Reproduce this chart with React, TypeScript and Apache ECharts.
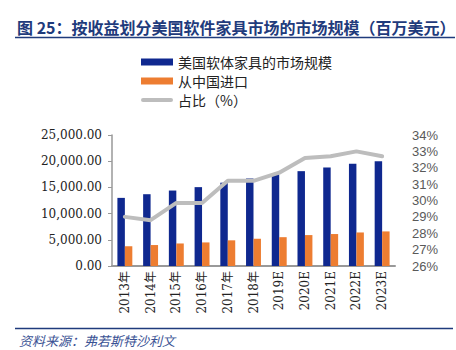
import React, { useEffect, useRef } from "react";
import * as echarts from "echarts";

const categories = ["2013年", "2014年", "2015年", "2016年", "2017年", "2018年", "2019E", "2020E", "2021E", "2022E", "2023E"];
const marketSize = [13000, 13700, 14400, 15050, 15900, 16700, 17500, 18100, 18800, 19500, 20000];
const importsChina = [3770, 4000, 4300, 4500, 4900, 5200, 5500, 5900, 6100, 6400, 6600];
const sharePct = [29.0, 28.8, 29.85, 29.85, 31.2, 31.2, 31.7, 32.6, 32.7, 33.0, 32.7];
const seriesNames = ["美国软体家具的市场规模", "从中国进口", "占比（%）"];
const titleText = "图 25：按收益划分美国软件家具市场的市场规模（百万美元）";
const sourceText = "资料来源：弗若斯特沙利文";

export default function App() {
  const ref = useRef<HTMLDivElement>(null);
  useEffect(() => {
    if (!ref.current) return;
    const chart = echarts.init(ref.current, null, { renderer: "svg" });
    const navy = "#1F3B7C";
    chart.setOption({
      animation: false,
      backgroundColor: "#ffffff",
      graphic: [
        {
          type: "text",
          left: 17,
          top: 19,
          style: { text: titleText, fill: navy, font: "bold 16px 'Noto Sans CJK SC', sans-serif" },
        },
        { type: "line", shape: { x1: 15, y1: 37.5, x2: 455, y2: 37.5 }, style: { stroke: navy, lineWidth: 1.5 } },
        { type: "line", shape: { x1: 15, y1: 328.5, x2: 453, y2: 328.5 }, style: { stroke: navy, lineWidth: 1.5 } },
        {
          type: "text",
          left: 19,
          top: 334,
          style: { text: sourceText, fill: "#3A5294", font: "italic 13px 'Noto Sans CJK SC', sans-serif" },
        },
      ],
      legend: {
        orient: "vertical",
        left: 136,
        top: 50,
        itemWidth: 32,
        itemHeight: 7,
        itemGap: 5,
        symbolKeepAspect: true,
        textStyle: { fontSize: 14, color: "#222", fontFamily: "'Noto Sans CJK SC', sans-serif" },
        data: [
          { name: seriesNames[0], icon: "rect" },
          { name: seriesNames[1], icon: "rect" },
          {
            name: seriesNames[2],
            icon: "path://M2,0 L30,0 A2,2 0 0 1 30,4 L2,4 A2,2 0 0 1 2,0 Z",
          },
        ],
      },
      grid: { left: 112, right: 61, top: 135, bottom: 84 },
      xAxis: {
        type: "category",
        data: categories,
        axisLine: { lineStyle: { color: "#999", width: 2 } },
        axisTick: { show: false },
        axisLabel: {
          rotate: 90,
          margin: 5,
          color: "#222",
          fontSize: 12,
          fontFamily: "'DejaVu Serif', 'Noto Sans CJK SC', serif",
        },
      },
      yAxis: [
        {
          type: "value",
          min: 0,
          max: 25000,
          interval: 5000,
          splitLine: { show: false },
          axisLine: { show: true, lineStyle: { color: "#999", width: 1.5 } },
          axisTick: { show: true, length: 4, lineStyle: { color: "#999" } },
          axisLabel: {
            margin: 10,
            color: "#222",
            fontSize: 12,
            fontFamily: "'DejaVu Serif', serif",
            formatter: (v: number) =>
              v.toLocaleString("en-US", { minimumFractionDigits: 2, maximumFractionDigits: 2 }),
          },
        },
        {
          type: "value",
          min: 26,
          max: 34,
          interval: 1,
          position: "right",
          splitLine: { show: false },
          axisLine: { show: false },
          axisTick: { show: false },
          axisLabel: {
            margin: 17,
            color: "#595959",
            fontSize: 13,
            fontFamily: "'Liberation Sans', sans-serif",
            formatter: "{value}%",
          },
        },
      ],
      series: [
        {
          name: seriesNames[0],
          type: "bar",
          data: marketSize,
          barGap: "0%",
          barCategoryGap: "42%",
          itemStyle: { color: "#0F288F" },
        },
        {
          name: seriesNames[1],
          type: "bar",
          data: importsChina,
          itemStyle: { color: "#ED7D31" },
        },
        {
          name: seriesNames[2],
          type: "line",
          yAxisIndex: 1,
          data: sharePct,
          symbol: "none",
          lineStyle: { color: "#BDBDBD", width: 4, cap: "round" },
          itemStyle: { color: "#BDBDBD" },
        },
      ],
    });
    return () => chart.dispose();
  }, []);
  return <div ref={ref} style={{ width: 456, height: 350, position: "absolute", left: 0, top: 0 }} />;
}
